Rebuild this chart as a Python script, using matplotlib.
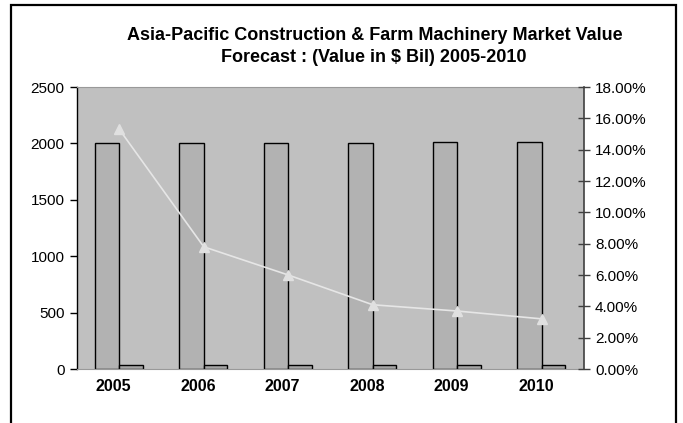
import matplotlib
matplotlib.use("Agg")
import matplotlib.pyplot as plt
import numpy as np
from matplotlib.patches import Rectangle
from matplotlib.ticker import FuncFormatter, MultipleLocator

years = ["2005", "2006", "2007", "2008", "2009", "2010"]
market_value = [2000, 2000, 2000, 2000, 2010, 2010]
small_series = [35, 35, 35, 35, 35, 35]
growth_pct = [15.3, 7.8, 6.0, 4.1, 3.7, 3.2]

plt.rcParams['font.family'] = ['Liberation Sans', 'DejaVu Sans']

fig = plt.figure(figsize=(6.83, 4.23), dpi=100)
fig.patch.set_facecolor('white')
ax = fig.add_axes([77/683, 1-369/423, (584-77)/683, (369-87)/423])
ax.set_facecolor('#C0C0C0')

x = np.arange(len(years))
ax.bar(x - 0.29, market_value, width=0.29, align='edge', color='#B2B2B2',
       edgecolor='black', linewidth=1.0, zorder=2)
ax.bar(x, small_series, width=0.28, align='edge', color='#A6A6A6',
       edgecolor='black', linewidth=1.0, zorder=2)

ax.set_xlim(-0.5, len(years) - 0.5)
ax.set_ylim(0, 2500)
ax.yaxis.set_major_locator(MultipleLocator(500))
ax.set_xticks(x - 0.07)
ax.set_xticklabels(years, fontsize=11.5, fontweight='bold')
ax.tick_params(axis='x', length=0, pad=7)
ax.tick_params(axis='y', direction='out', length=5, width=1, labelsize=11, pad=4)

ax.spines['top'].set_color('#999999')
ax.spines['top'].set_linewidth(0.8)
ax.spines['bottom'].set_color('#999999')
ax.spines['bottom'].set_linewidth(0.8)
ax.spines['left'].set_color('black')
ax.spines['left'].set_linewidth(1.0)
ax.spines['right'].set_visible(False)

ax2 = ax.twinx()
ax2.plot(x, growth_pct, color='#E6E6E6', linewidth=1.2, marker='^',
         markersize=7, markerfacecolor='#E0E0E0', markeredgecolor='#E0E0E0', zorder=3)
ax2.set_ylim(0, 18)
ax2.yaxis.set_major_locator(MultipleLocator(2))
ax2.yaxis.set_major_formatter(FuncFormatter(lambda v, p: f"{v:.2f}%"))
ax2.tick_params(axis='y', direction='inout', length=8, width=1, labelsize=11, pad=4,
                color='#404040')
for s in ['top', 'left', 'bottom']:
    ax2.spines[s].set_visible(False)
ax2.spines['right'].set_color('#404040')
ax2.spines['right'].set_linewidth(1.2)

fig.text(375/683, 1-35/423, "Asia-Pacific Construction & Farm Machinery Market Value",
         ha='center', va='center', fontsize=13, fontweight='bold')
fig.text(374/683, 1-57/423, "Forecast : (Value in $ Bil) 2005-2010",
         ha='center', va='center', fontsize=13, fontweight='bold')

border = Rectangle((11/683, -0.05), (676-11)/683, 1.05 - 5/423, transform=fig.transFigure,
                   fill=False, edgecolor='black', linewidth=1.6, zorder=10)
fig.patches.append(border)

fig.savefig("out.png", dpi=100)
